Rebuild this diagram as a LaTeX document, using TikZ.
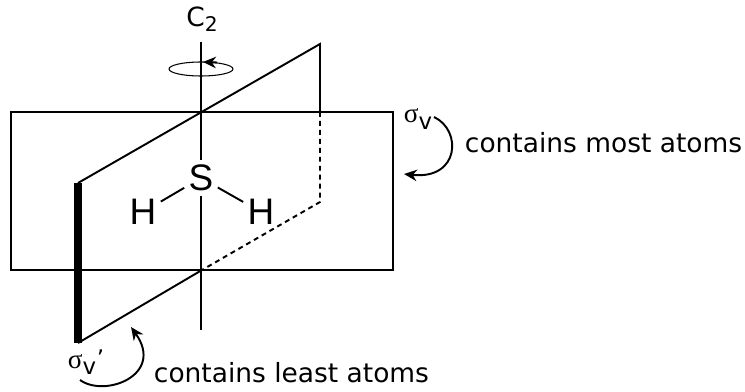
\documentclass[tikz,border=0pt]{standalone}
\usepackage{fontspec}
\setmainfont{DejaVu Sans}
\newfontfamily\atomfont{Liberation Sans}
\newfontfamily\greekfont{Liberation Serif}
\usetikzlibrary{arrows.meta}
\newcommand{\sigv}[1]{{\greekfont\fontsize{15.5}{16}\selectfont σ}\raisebox{-3.5pt}{\fontsize{13}{14}\selectfont v#1}}

\begin{document}
\begin{tikzpicture}[>={Stealth[length=2.6mm,width=2.3mm]},line cap=butt,line width=1.1pt,
  atom/.style={font=\atomfont\fontsize{21}{21}\selectfont,inner sep=2pt},
  lbl/.style={font=\fontsize{15.05}{18}\selectfont,inner sep=0pt},
  turn/.style={->,line width=1.1pt}]
\useasboundingbox (0,0) rectangle (14.9,7.82);
% horizontal plane
\coordinate (p1) at (0.22,5.58);
\coordinate (p2) at (7.86,5.58);
\coordinate (p3) at (7.86,2.42);
\coordinate (p4) at (0.22,2.42);
\draw (p1) -- (p2) -- (p3) -- (p4) -- cycle;
% vertical plane
\coordinate (q1) at (1.56,4.16);
\coordinate (q2) at (6.4,6.94);
\coordinate (q3) at (6.4,5.58);
\coordinate (q4) at (6.4,3.78);
\coordinate (q5) at (4.04,2.42);
\coordinate (q6) at (1.56,0.96);
\draw (q1) -- (q2) -- (q3);
\draw[dash pattern=on 2.8pt off 2.3pt] (q3) -- (q4) -- (q5);
\draw (q5) -- (q6);
\draw[line width=4.5pt] (q1) -- (q6);
% molecule
\node[atom] (S) at (4.02,4.26) {S};
\node[atom] (HL) at (2.86,3.58) {H};
\node[atom] (HR) at (5.22,3.58) {H};
\coordinate (top) at (4.02,6.98);
\coordinate (bot) at (4.02,1.22);
\draw (top) -- (S);
\draw (S) -- (bot);
\draw (S) -- (HL);
\draw (S) -- (HR);
% labels
\node[inner sep=0pt,anchor=base,lbl] (C2) at (4.04,7.28) {C\raisebox{-2.8pt}{\fontsize{11.5}{12}\selectfont 2}};
\node[inner sep=0pt] (sv) at (8.36,5.44) {\sigv{}};
\node[inner sep=0pt] (svp) at (1.72,0.57) {\sigv{\hspace{0.5pt}\raisebox{4.5pt}{'}}};
\node[lbl,anchor=base west] (most) at (9.28,4.76) {contains most atoms};
\node[lbl,anchor=base west] (least) at (3.06,0.18) {contains least atoms};
% rotation
\draw[line width=0.6pt] (4.02,6.44) ellipse (0.64 and 0.14);
\coordinate (r1) at (4.34,6.57);
\coordinate (r2) at (4.06,6.58);
\draw[->] (r1) -- (r2);
% curved arrows
\coordinate (a1) at (8.68,5.48);
\coordinate (a2) at (8.08,4.34);
\draw[turn] (a1) .. controls (9.24,5.22) and (9.2,4.22) .. (a2);
\coordinate (b1) at (1.6,0.22);
\coordinate (b2) at (2.62,1.28);
\draw[turn] (b1) .. controls (2.1,-0.14) and (3.3,0.32) .. (b2);
\end{tikzpicture}
\end{document}
